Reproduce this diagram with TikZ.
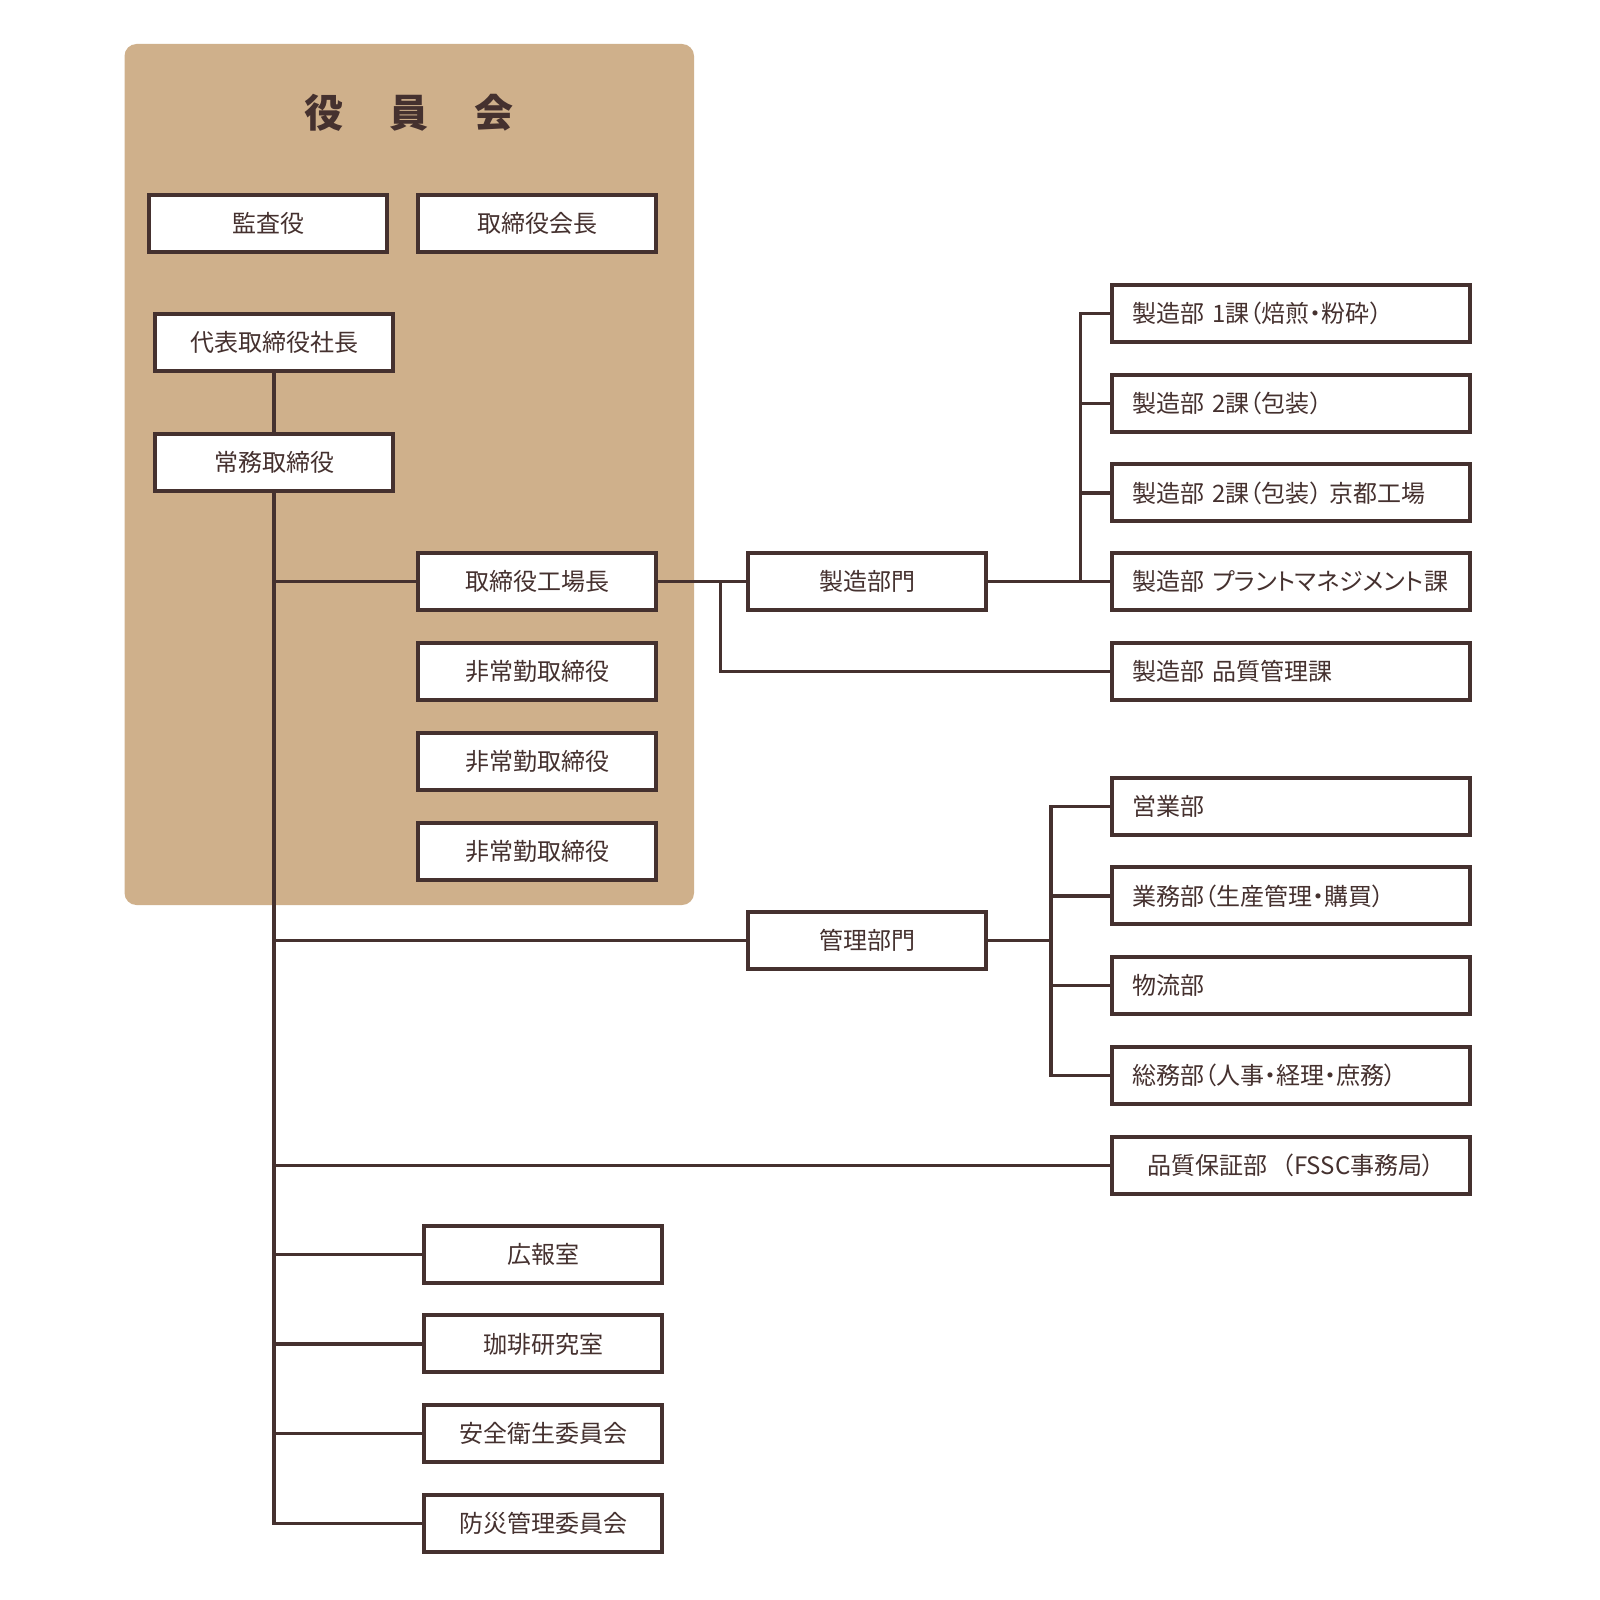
\documentclass[tikz,border=0pt]{standalone}
\usepackage{fontspec}
\newfontfamily\jpfont[RawFeature=+palt]{Noto Sans CJK JP}
\newfontfamily\jptitle{Noto Sans CJK JP}
\usepackage{tikz}
\usetikzlibrary{positioning,calc}
\definecolor{brn}{RGB}{69,49,47}
\definecolor{tan}{RGB}{207,176,139}
\tikzset{
  box/.style={draw=brn, line width=2pt, fill=white, text=brn, minimum width=119pt, minimum height=28.5pt, inner sep=0pt, font=\jpfont\fontsize{12}{14}\selectfont},
  wbox/.style={box, minimum width=179pt, text width=158.4pt, inner xsep=10.3pt, align=#1},
  wbox/.default=left,
  link/.style={draw=brn, line width=1.6pt},
}
\begin{document}
\begin{tikzpicture}[x=0.5pt, y=-0.5pt]
  \useasboundingbox[fill=white] (0,0) rectangle (1600,1600);
  % board of directors
  \fill[tan, rounded corners=6pt] (124.5,44) rectangle (694,905);
  \node[text=brn, font=\jptitle\bfseries\fontsize{19.5}{20}\selectfont] (title) at (409,113) {役\hspace{23pt}員\hspace{23pt}会};
  \node[box] (audit) at (268,223.5) {監査役};
  \node[box] (chair) at (537,223.5) {取締役会長};
  \node[box] (pres) at (274,342.5) {代表取締役社長};
  \node[box] (exec) at (274,462.5) {常務取締役};
  \node[box] (fmgr) at (537,581.6) {取締役工場長};
  \foreach \y [count=\i] in {671.4,761.2,851.0}
    \node[box] (ne\i) at (537,\y) {非常勤取締役};
  % divisions
  \node[box] (mfg) at (867,581.6) {製造部門};
  \node[box] (adm) at (867,940.8) {管理部門};
  \foreach \t/\y [count=\i] in {製造部 1課（焙煎・粉砕）/313.3, 製造部 2課（包装）/403.1, 製造部 2課（包装） 京都工場/492.9, 製造部 プラントマネジメント課/581.6, 製造部 品質管理課/671.4}
    \node[wbox] (m\i) at (1291,\y) {\t};
  \foreach \t/\y [count=\i] in {営業部/806.1, 業務部（生産管理・購買）/895.9, 物流部/985.7, 総務部（人事・経理・庶務）/1075.5}
    \node[wbox] (a\i) at (1291,\y) {\t};
  \node[wbox=center] (qa) at (1291,1165.3) {品質保証部\hspace{0.6em}（FSSC事務局）};
  \foreach \t/\y [count=\i] in {広報室/1254.1, 珈琲研究室/1343.9, 安全衛生委員会/1433.7, 防災管理委員会/1523.5}
    \node[box] (b\i) at (543,\y) {\t};
  % connectors
  \coordinate (j1) at (720.4,581.6);
  \coordinate (bus1) at (1080.6,581.6);
  \coordinate (bus2) at (1051,940.8);
  \draw[link] (pres) -- (exec);
  \draw[link] (exec.south) |- (b4.west);
  \foreach \n in {fmgr,adm,qa,b1,b2,b3}
    \draw[link] (exec.south |- \n) -- (\n.west);
  \draw[link] (fmgr.east) -- (mfg.west);
  \draw[link] (j1) |- (m5.west);
  \draw[link] (mfg.east) -- (m4.west);
  \foreach \i in {1,2,3}
    \draw[link] (m\i.west) -| (bus1);
  \draw[link] (adm.east) -- (bus2);
  \foreach \i in {1,...,4}
    \draw[link] (a\i.west) -| (bus2);
\end{tikzpicture}
\end{document}
